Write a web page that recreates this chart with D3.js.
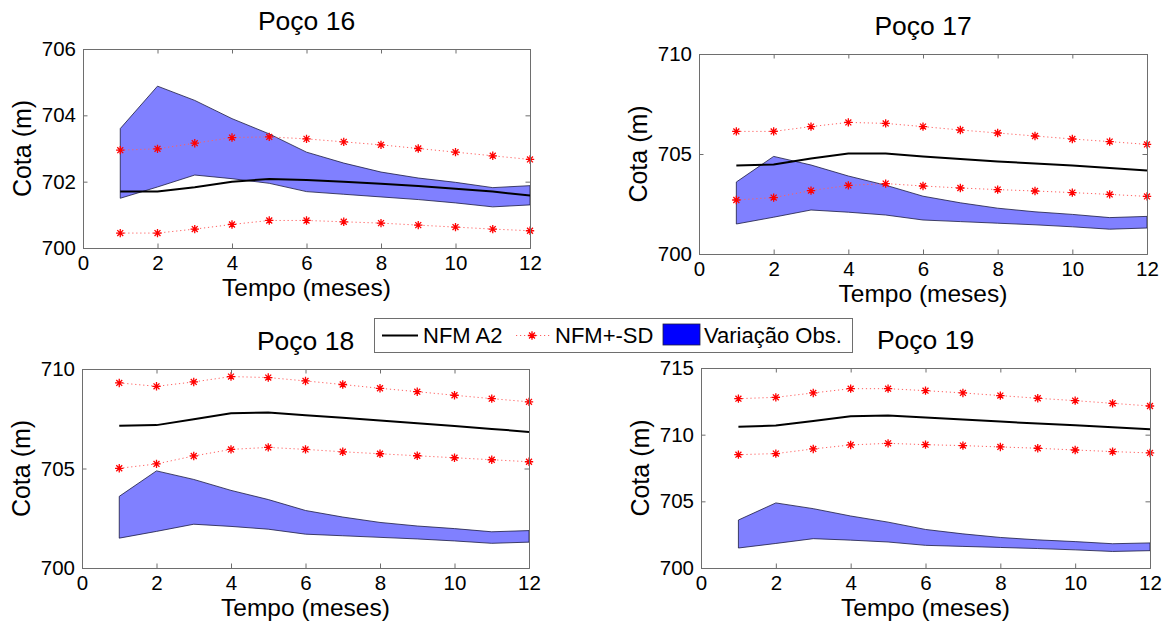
<!DOCTYPE html>
<html>
<head>
<meta charset="utf-8">
<script src="https://cdn.jsdelivr.net/npm/d3@7"></script>
<style>
  html, body { margin: 0; padding: 0; background: #fff; }
  svg { display: block; font-family: "Liberation Sans", Arial, sans-serif; }
</style>
</head>
<body>
<svg id="chart" width="1168" height="625"></svg>
<script>
// Months of the simulation
const months = [1, 2, 3, 4, 5, 6, 7, 8, 9, 10, 11, 12];

// Observed range (same for every well)
const obsUpper = [703.6, 704.88, 704.45, 703.9, 703.44, 702.89, 702.56, 702.29, 702.11, 701.98, 701.82, 701.88];
const obsLower = [701.5, 701.84, 702.2, 702.09, 701.95, 701.7, 701.62, 701.54, 701.46, 701.36, 701.24, 701.3];

// Well names
const wells = ["Poço 16", "Poço 17", "Poço 18", "Poço 19"];

// NFM A2 mean per well
const nfm16 = [701.7, 701.7, 701.83, 702.0, 702.08, 702.05, 702.0, 701.94, 701.87, 701.79, 701.7, 701.58];
const nfm17 = [704.42, 704.48, 704.78, 705.02, 705.02, 704.88, 704.75, 704.63, 704.53, 704.42, 704.3, 704.18];
const nfm18 = [707.15, 707.18, 707.48, 707.78, 707.81, 707.68, 707.55, 707.41, 707.28, 707.13, 706.99, 706.84];
const nfm19 = [710.6, 710.68, 711.03, 711.38, 711.43, 711.28, 711.13, 710.98, 710.83, 710.7, 710.55, 710.4];

// NFM + SD
const sdUp16 = [702.95, 702.99, 703.16, 703.33, 703.35, 703.29, 703.2, 703.11, 703.0, 702.89, 702.78, 702.67];
const sdUp17 = [706.13, 706.13, 706.37, 706.58, 706.53, 706.37, 706.2, 706.05, 705.9, 705.75, 705.62, 705.48];
const sdUp18 = [709.3, 709.13, 709.35, 709.62, 709.57, 709.4, 709.22, 709.03, 708.86, 708.68, 708.51, 708.35];
const sdUp19 = [712.7, 712.8, 713.13, 713.45, 713.45, 713.3, 713.13, 712.93, 712.73, 712.55, 712.35, 712.15];

// NFM - SD
const sdLo16 = [700.45, 700.45, 700.57, 700.71, 700.83, 700.83, 700.79, 700.75, 700.69, 700.63, 700.57, 700.52];
const sdLo17 = [702.7, 702.82, 703.17, 703.43, 703.52, 703.4, 703.3, 703.22, 703.15, 703.07, 702.98, 702.88];
const sdLo18 = [705.01, 705.23, 705.63, 705.96, 706.06, 705.96, 705.84, 705.74, 705.64, 705.54, 705.44, 705.34];
const sdLo19 = [708.5, 708.58, 708.93, 709.23, 709.35, 709.25, 709.18, 709.08, 708.98, 708.85, 708.73, 708.63];

// Axis ranges and ticks
const xTicks = [0, 2, 4, 6, 8, 10, 12];
const yDomains = [[700, 706], [700, 710], [700, 710], [700, 715]];
const yTickSets = [[700, 702, 704, 706], [700, 705, 710], [700, 705, 710], [700, 705, 710, 715]];

// Legend entries
const legendLabels = ["NFM A2", "NFM+-SD", "Variação Obs."];

const nfmSeries = [nfm16, nfm17, nfm18, nfm19];
const sdUpSeries = [sdUp16, sdUp17, sdUp18, sdUp19];
const sdLoSeries = [sdLo16, sdLo17, sdLo18, sdLo19];

// Plot-box placement of each panel (pixels)
const boxes = [
  { l: 83, r: 530, t: 49, b: 248 },
  { l: 699, r: 1147, t: 54, b: 254 },
  { l: 82, r: 529, t: 369, b: 568 },
  { l: 701, r: 1150, t: 368, b: 568 }
];

const svg = d3.select("#chart");
const boxColor = "#6e6e6e";
const fillColor = "#8080ff";
const redColor = "#ff0000";

// 8-armed asterisk marker
function starPath(r) {
  const d = r * Math.SQRT1_2;
  return `M${-r},0L${r},0M0,${-r}L0,${r}M${-d},${-d}L${d},${d}M${-d},${d}L${d},${-d}`;
}

wells.forEach((name, i) => {
  const bx = boxes[i];
  const x = d3.scaleLinear().domain([0, 12]).range([bx.l, bx.r]);
  const y = d3.scaleLinear().domain(yDomains[i]).range([bx.b, bx.t]);
  const g = svg.append("g");

  // white plot background
  g.append("rect")
    .attr("x", bx.l).attr("y", bx.t)
    .attr("width", bx.r - bx.l).attr("height", bx.b - bx.t)
    .attr("fill", "#fff");

  // observed band
  const area = d3.area()
    .x((d, j) => x(months[j]))
    .y0((d, j) => y(obsLower[j]))
    .y1((d, j) => y(obsUpper[j]));
  g.append("path")
    .datum(months)
    .attr("d", area)
    .attr("fill", fillColor)
    .attr("stroke", "#1a1a40")
    .attr("stroke-width", 0.8)
    .attr("stroke-linejoin", "round");

  // NFM A2 mean
  const line = d3.line().x((d, j) => x(months[j])).y(d => y(d));
  g.append("path")
    .datum(nfmSeries[i])
    .attr("d", line)
    .attr("fill", "none")
    .attr("stroke", "#000")
    .attr("stroke-width", 2);

  // NFM +/- SD
  [sdUpSeries[i], sdLoSeries[i]].forEach(series => {
    g.append("path")
      .datum(series)
      .attr("d", line)
      .attr("fill", "none")
      .attr("stroke", "#ff6060")
      .attr("stroke-width", 1)
      .attr("stroke-dasharray", "1.2,2.8");
    g.selectAll(null)
      .data(series)
      .enter()
      .append("path")
      .attr("transform", (d, j) => `translate(${x(months[j])},${y(d)})`)
      .attr("d", starPath(4.2))
      .attr("stroke", redColor)
      .attr("stroke-width", 1.3)
      .attr("fill", "none");
  });

  // axes: ticks inward on all four sides
  const tickLen = 4.5;
  const xb = d3.axisBottom(x).tickValues(xTicks).tickSize(-tickLen).tickPadding(7).tickFormat(d3.format("d"));
  const xt = d3.axisTop(x).tickValues(xTicks).tickSize(-tickLen).tickFormat("");
  const yl = d3.axisLeft(y).tickValues(yTickSets[i]).tickSize(-tickLen).tickPadding(7).tickFormat(d3.format("d"));
  const yr = d3.axisRight(y).tickValues(yTickSets[i]).tickSize(-tickLen).tickFormat("");

  const axB = g.append("g").attr("transform", `translate(0,${bx.b})`).call(xb);
  const axT = g.append("g").attr("transform", `translate(0,${bx.t})`).call(xt);
  const axL = g.append("g").attr("transform", `translate(${bx.l},0)`).call(yl);
  const axR = g.append("g").attr("transform", `translate(${bx.r},0)`).call(yr);

  [axB, axT, axL, axR].forEach(a => {
    a.select(".domain").attr("stroke", boxColor).attr("stroke-width", 1);
    a.selectAll(".tick line").attr("stroke", boxColor).attr("stroke-width", 1);
    a.selectAll("text").attr("fill", "#000").attr("font-size", 20.5).attr("font-family", "Liberation Sans, Arial, sans-serif");
  });

  // title
  g.append("text")
    .attr("x", (bx.l + bx.r) / 2)
    .attr("y", bx.t - 19)
    .attr("text-anchor", "middle")
    .attr("font-size", 26.5)
    .text(name);

  // axis labels
  g.append("text")
    .attr("x", (bx.l + bx.r) / 2)
    .attr("y", bx.b + 48)
    .attr("text-anchor", "middle")
    .attr("font-size", 24.5)
    .text("Tempo (meses)");

  g.append("text")
    .attr("transform", `translate(${bx.l - 52},${(bx.t + bx.b) / 2}) rotate(-90)`)
    .attr("text-anchor", "middle")
    .attr("font-size", 25)
    .text("Cota (m)");
});

// Legend
const lg = svg.append("g");
lg.append("rect")
  .attr("x", 374.5).attr("y", 318.5)
  .attr("width", 478).attr("height", 34)
  .attr("fill", "#fff")
  .attr("stroke", boxColor)
  .attr("stroke-width", 1);

const legendY = 335.5;
lg.append("line")
  .attr("x1", 382).attr("x2", 418)
  .attr("y1", legendY).attr("y2", legendY)
  .attr("stroke", "#000").attr("stroke-width", 2);
lg.append("text").attr("x", 423).attr("y", 343.3).attr("font-size", 22).text(legendLabels[0]);

lg.append("line")
  .attr("x1", 516).attr("x2", 550)
  .attr("y1", legendY).attr("y2", legendY)
  .attr("stroke", "#ff6060").attr("stroke-width", 1)
  .attr("stroke-dasharray", "1.2,2.8");
lg.append("path")
  .attr("transform", `translate(532,${legendY})`)
  .attr("d", starPath(4.2))
  .attr("stroke", redColor).attr("stroke-width", 1.3).attr("fill", "none");
lg.append("text").attr("x", 555).attr("y", 343.3).attr("font-size", 22).text(legendLabels[1]);

lg.append("rect")
  .attr("x", 663).attr("y", 324)
  .attr("width", 37).attr("height", 21)
  .attr("fill", "#0000ff")
  .attr("stroke", "#202040").attr("stroke-width", 0.8);
lg.append("text").attr("x", 704).attr("y", 343.3).attr("font-size", 22).text(legendLabels[2]);
</script>
</body>
</html>
